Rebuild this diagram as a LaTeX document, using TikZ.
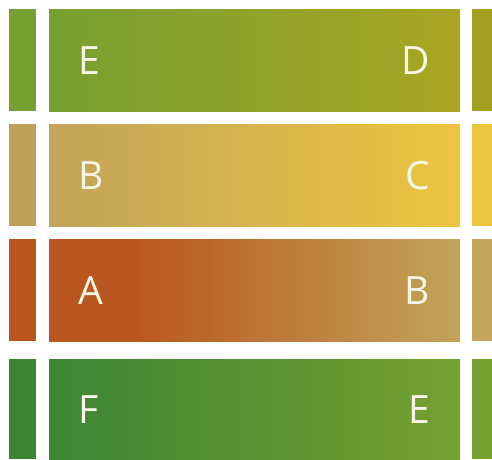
\documentclass[tikz,border=0pt]{standalone}
\usepackage{fontspec}
\setmainfont{Open Sans}
\usepackage{tikz}
\usetikzlibrary{positioning}
\definecolor{OliveGreen}{RGB}{119, 160, 49}
\definecolor{OliveYellow}{RGB}{169, 165, 35}
\definecolor{SandTan}{RGB}{194, 164, 90}
\definecolor{SunYellow}{RGB}{236, 197, 63}
\definecolor{RustOrange}{RGB}{186, 86, 31}
\definecolor{LeafGreen}{RGB}{61, 133, 52}
\definecolor{LabelWhite}{RGB}{248, 246, 228}
\pgfdeclarehorizontalshading{rustfade}{100bp}{color(0bp)=(RustOrange); color(35bp)=(RustOrange); color(75bp)=(SandTan); color(100bp)=(SandTan)}

\begin{document}
\begin{tikzpicture}[x=1pt, y=-1pt,
      band/.style={draw=none},
      label/.style={text=LabelWhite, inner sep=0pt, font=\fontsize{39}{39}\selectfont}
    ]
      \useasboundingbox (0,0) rectangle (492,459);

      % row 1
      \fill[OliveGreen] (9,9) rectangle (36,111);
      \shade[band, left color=OliveGreen, right color=OliveYellow] (49,9) rectangle (460,111);
      \fill[OliveYellow!97!black] (472,9) rectangle (492,111);
      % row 2
      \fill[SandTan!98!black] (9,124) rectangle (36,226);
      \shade[band, left color=SandTan, right color=SunYellow] (49,124) rectangle (460,226);
      \fill[SunYellow] (472,124) rectangle (492,226);
      % row 3
      \fill[RustOrange] (9,239) rectangle (36,341);
      \shade[band, shading=rustfade] (49,239) rectangle (460,341);
      \fill[SandTan] (472,239) rectangle (492,341);
      % row 4
      \fill[LeafGreen] (9,359) rectangle (36,459);
      \shade[band, left color=LeafGreen, right color=OliveGreen] (49,359) rectangle (460,459);
      \fill[OliveGreen] (472,359) rectangle (492,459);

      \node[label, anchor=base west] (e1) at (78,74) {E};
      \node[label, anchor=base east] (d1) at (430,74) {D};
      \node[label, anchor=base west] (b2) at (78,189) {B};
      \node[label, anchor=base east] (c2) at (430,189) {C};
      \node[label, anchor=base west] (a3) at (78,304) {A};
      \node[label, anchor=base east] (b3) at (430,304) {B};
      \node[label, anchor=base west] (f4) at (78,423) {F};
      \node[label, anchor=base east] (e4) at (430,423) {E};
    \end{tikzpicture}
\end{document}
